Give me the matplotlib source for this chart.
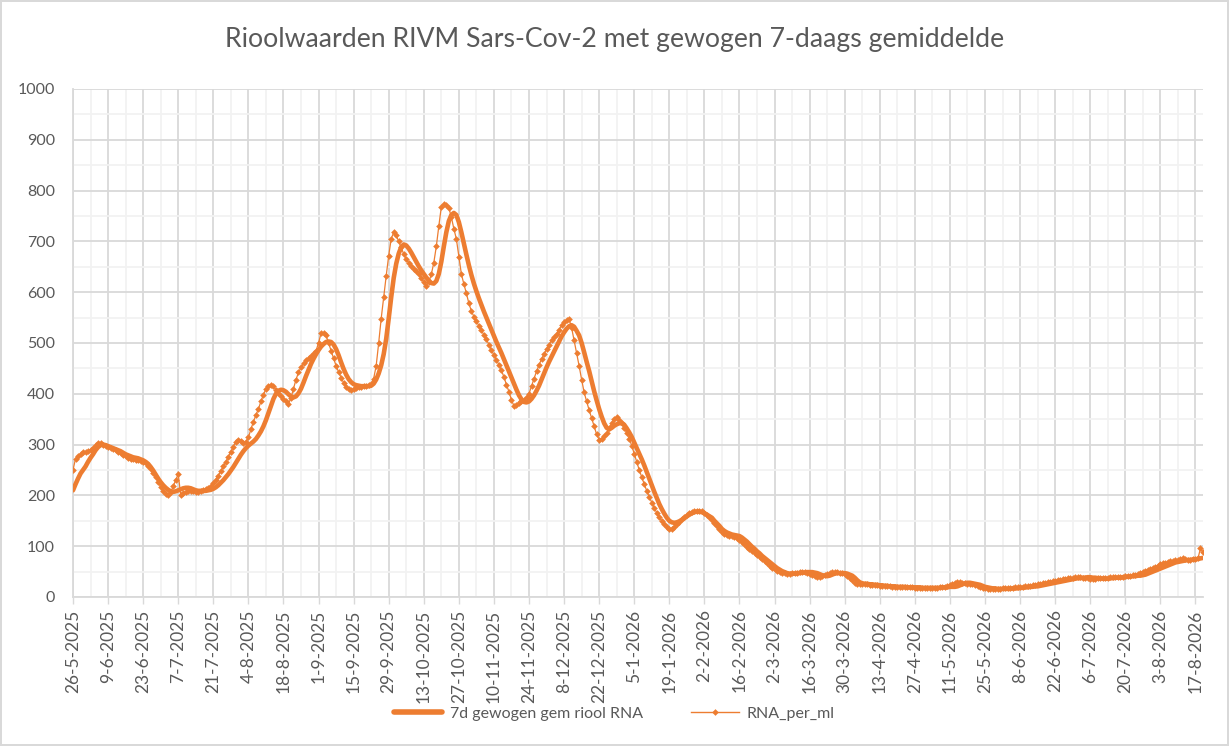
# Rioolwaarden RIVM: ruwe RNA-meting en gewogen 7-daags gemiddelde in een lijngrafiek

from __future__ import annotations

import matplotlib

matplotlib.use("Agg", force=True)
import matplotlib.pyplot as plt  # noqa: E402
import pandas as pd  # noqa: E402
from matplotlib.lines import Line2D  # noqa: E402

TITLE = "Rioolwaarden RIVM Sars-Cov-2 met gewogen 7-daags gemiddelde"
LABEL_AVG = "7d gewogen gem riool RNA"
LABEL_RAW = "RNA_per_ml"

START_DATE = "2025-05-26"
END_DATE = "2026-08-20"
Y_TICKS = [0, 100, 200, 300, 400, 500, 600, 700, 800, 900, 1000]

# gewogen 7-daags gemiddelde, een waarde per dag vanaf 26-5-2025
RNA_AVG_7D = [
    210, 222, 233, 243, 250, 257, 266, 274, 281, 289,
    295, 299, 300, 299, 297, 295, 293, 291, 289, 287,
    284, 281, 279, 277, 275, 274, 273, 271, 269, 266,
    262, 256, 249, 241, 233, 226, 220, 215, 211, 208,
    207, 208, 210, 212, 214, 215, 215, 214, 212, 210,
    209, 209, 209, 209, 210, 211, 213, 216, 220, 225,
    230, 236, 242, 249, 256, 264, 272, 280, 287, 293,
    298, 302, 306, 311, 318, 326, 336, 348, 362, 376,
    390, 400, 406, 408, 407, 404, 399, 395, 393, 395,
    401, 410, 422, 435, 447, 459, 469, 478, 486, 493,
    498, 502, 503, 502, 497, 488, 476, 462, 449, 438,
    429, 423, 419, 417, 416, 415, 415, 415, 415, 416,
    420, 428, 440, 456, 478, 508, 548, 590, 628, 656,
    676, 689, 694, 692, 686, 678, 669, 660, 651, 643,
    636, 629, 623, 618, 617, 622, 636, 660, 690, 718,
    740, 752, 756, 752, 738, 718, 696, 674, 653, 634,
    617, 602, 588, 575, 562, 550, 538, 526, 514, 502,
    491, 480, 468, 456, 444, 432, 420, 408, 397, 389,
    384, 383, 385, 390, 397, 406, 416, 428, 440, 452,
    463, 473, 483, 493, 503, 513, 521, 528, 533, 535,
    532, 524, 515, 500, 482, 463, 445, 425, 405, 387,
    370, 355, 342, 333, 330, 333, 337, 340, 342, 342,
    339, 332, 324, 315, 304, 293, 282, 271, 259, 246,
    233, 220, 207, 195, 183, 173, 164, 156, 150, 147,
    146, 147, 149, 152, 155, 159, 162, 165, 167, 168,
    168, 167, 165, 162, 159, 156, 150, 145, 140, 134,
    130, 127, 125, 123, 122, 121, 120, 117, 113, 109,
    104, 99, 95, 90, 86, 81, 77, 73, 69, 65,
    61, 57, 54, 51, 49, 47, 46, 46, 46, 47,
    47, 48, 48, 49, 49, 49, 48, 47, 45, 43,
    42, 41, 42, 44, 46, 47, 47, 47, 47, 46,
    44, 42, 38, 33, 29, 27, 26, 26, 25, 25,
    24, 24, 23, 23, 22, 22, 21, 21, 21, 20,
    20, 20, 20, 19, 19, 19, 19, 19, 19, 18,
    18, 18, 18, 18, 18, 18, 18, 19, 19, 19,
    20, 20, 20, 21, 23, 25, 27, 28, 28, 27,
    26, 25, 24, 22, 20, 19, 18, 17, 17, 16,
    16, 16, 16, 16, 16, 17, 17, 17, 18, 18,
    19, 19, 20, 20, 21, 21, 22, 23, 24, 25,
    26, 27, 28, 29, 30, 31, 32, 33, 34, 35,
    36, 37, 37, 38, 38, 39, 39, 38, 38, 37,
    37, 36, 36, 36, 37, 37, 38, 38, 38, 39,
    39, 40, 40, 41, 41, 42, 42, 43, 44, 46,
    48, 50, 52, 54, 56, 58, 60, 62, 64, 66,
    68, 69, 70, 71, 72, 73, 73, 74, 74, 75,
    76, 77,
]

# ruwe meting RNA per ml, zelfde dagen
RNA_PER_ML = [
    250, 272, 278, 282, 285, 286, 288, 290, 294, 299,
    304, 304, 300, 297, 295, 293, 291, 289, 286, 283,
    280, 277, 274, 272, 271, 270, 269, 268, 266, 263,
    258, 252, 244, 236, 226, 216, 208, 203, 200, 206,
    218, 230, 242, 200, 204, 207, 209, 209, 208, 207,
    207, 208, 210, 212, 215, 219, 224, 231, 239, 248,
    257, 266, 276, 286, 296, 306, 310, 308, 304, 306,
    314, 330, 345, 358, 370, 385, 398, 410, 416, 418,
    415, 408, 402, 396, 390, 385, 380, 392, 410, 428,
    442, 452, 460, 466, 471, 475, 480, 485, 500, 519,
    520, 515, 500, 485, 470, 455, 443, 432, 422, 414,
    409, 408, 410, 412, 413, 414, 415, 416, 418, 420,
    430, 455, 500, 548, 590, 632, 672, 705, 718, 712,
    700, 688, 675, 665, 658, 652, 646, 642, 636, 628,
    620, 613, 620, 635, 658, 690, 730, 768, 773, 772,
    766, 748, 725, 705, 670, 636, 616, 598, 578, 563,
    552, 543, 534, 525, 516, 507, 497, 486, 476, 467,
    457, 446, 433, 418, 404, 388, 376, 378, 382, 385,
    388, 393, 400, 415, 430, 444, 457, 468, 478, 488,
    497, 505, 512, 518, 526, 535, 541, 545, 547, 530,
    505, 480, 455, 428, 403, 385, 368, 352, 336, 320,
    310, 312, 317, 322, 332, 343, 350, 354, 349, 343,
    333, 322, 312, 298, 282, 266, 250, 236, 222, 209,
    197, 186, 175, 166, 157, 150, 143, 138, 134, 133,
    138, 143, 148, 153, 158, 162, 165, 167, 169, 170,
    170, 169, 166, 162, 157, 151, 145, 139, 133, 128,
    125, 123, 121, 120, 118, 116, 113, 109, 104, 99,
    94, 90, 86, 82, 78, 74, 70, 66, 62, 58,
    55, 52, 50, 48, 47, 46, 46, 47, 47, 48,
    49, 50, 49, 48, 46, 44, 42, 40, 40, 41,
    43, 46, 48, 49, 50, 49, 48, 47, 45, 42,
    38, 33, 28, 26, 26, 25, 25, 25, 24, 24,
    23, 23, 22, 22, 21, 21, 21, 20, 20, 20,
    20, 19, 19, 19, 19, 19, 18, 18, 18, 18,
    18, 18, 18, 18, 18, 18, 19, 19, 20, 21,
    23, 25, 27, 29, 29, 28, 27, 26, 26, 25,
    24, 22, 20, 18, 17, 16, 16, 16, 16, 16,
    16, 17, 17, 17, 18, 18, 19, 19, 20, 20,
    21, 21, 22, 23, 24, 25, 26, 27, 28, 29,
    30, 31, 32, 33, 34, 35, 36, 37, 38, 38,
    39, 39, 39, 38, 38, 37, 36, 36, 36, 37,
    37, 38, 38, 38, 39, 39, 39, 40, 40, 40,
    41, 41, 42, 43, 44, 46, 48, 50, 52, 54,
    56, 58, 60, 62, 64, 66, 67, 68, 70, 71,
    72, 73, 74, 76, 75, 73, 73, 74, 75, 76,
    96, 88,
]

ORANGE = "#ED7D31"
TEXT_GREY = "#595959"
GRID_MAJOR = "#D9D9D9"
GRID_MINOR = "#F2F2F2"
FONT = ["Lato", "DejaVu Sans"]
TICK_SIZE = 11.5
XTICK_SIZE = 12.5


def _date_label(day: pd.Timestamp) -> str:
    return f"{day.day}-{day.month}-{day.year}"


def build_chart(out_path: str = "out.png") -> None:
    plt.rcParams["font.family"] = FONT

    dates = pd.date_range(START_DATE, END_DATE, freq="D")
    if len(dates) != len(RNA_AVG_7D) or len(dates) != len(RNA_PER_ML):
        raise ValueError("Reeksen hebben niet evenveel dagen als het datumbereik")

    fig = plt.figure(figsize=(12.29, 7.46), dpi=100)
    fig.patch.set_facecolor("white")
    ax = fig.add_axes([73 / 1229, 1 - 597 / 746, 1130 / 1229, 508 / 746])

    ax.plot(dates, RNA_AVG_7D, color=ORANGE, linewidth=3.3, solid_capstyle="round", zorder=3)
    ax.plot(
        dates,
        RNA_PER_ML,
        color=ORANGE,
        linewidth=0.9,
        marker="D",
        markersize=3.4,
        markeredgewidth=0,
        zorder=4,
    )

    # assen en rasterlijnen in Excel-stijl
    major = pd.date_range(START_DATE, END_DATE, freq="14D")
    minor = pd.date_range(START_DATE, END_DATE, freq="7D")
    ax.set_xlim(dates[0], dates[-1])
    ax.set_xticks(major)
    ax.set_xticklabels([_date_label(d) for d in major], rotation=90)
    ax.set_xticks(minor, minor=True)

    ax.set_ylim(0, 1000)
    ax.set_yticks(Y_TICKS)
    ax.set_yticks(range(50, 1000, 100), minor=True)

    ax.grid(which="major", color=GRID_MAJOR, linewidth=1.3, zorder=1)
    ax.grid(which="minor", color=GRID_MINOR, linewidth=1.3, zorder=0)
    ax.set_axisbelow(True)

    ax.tick_params(axis="x", which="major", length=5, width=1, color=GRID_MAJOR,
                   labelsize=XTICK_SIZE, labelcolor=TEXT_GREY, pad=4)
    ax.tick_params(axis="y", which="major", length=0, labelsize=TICK_SIZE,
                   labelcolor=TEXT_GREY, pad=13)
    ax.tick_params(which="minor", length=0)

    for side in ("top", "right"):
        ax.spines[side].set_visible(False)
    for side in ("left", "bottom"):
        ax.spines[side].set_color(GRID_MAJOR)
        ax.spines[side].set_linewidth(1.3)

    fig.text(0.5, 1 - 40 / 746, TITLE, ha="center", va="center",
             fontsize=19.2, color=TEXT_GREY)

    handles = [
        Line2D([], [], color=ORANGE, linewidth=4.0, solid_capstyle="round"),
        Line2D([], [], color=ORANGE, linewidth=1.0, marker="D", markersize=3.4,
               markeredgewidth=0),
    ]
    fig.legend(
        handles,
        [LABEL_AVG, LABEL_RAW],
        loc="center",
        bbox_to_anchor=(0.5, 1 - 714 / 746),
        ncol=2,
        frameon=False,
        fontsize=TICK_SIZE,
        labelcolor=TEXT_GREY,
        handlelength=3.0,
        handletextpad=0.5,
        columnspacing=3.0,
    )

    fig.patch.set_edgecolor(GRID_MAJOR)
    fig.patch.set_linewidth(1.5)
    fig.savefig(out_path, dpi=100, facecolor="white", edgecolor=GRID_MAJOR)
    plt.close(fig)


if __name__ == "__main__":
    build_chart()
